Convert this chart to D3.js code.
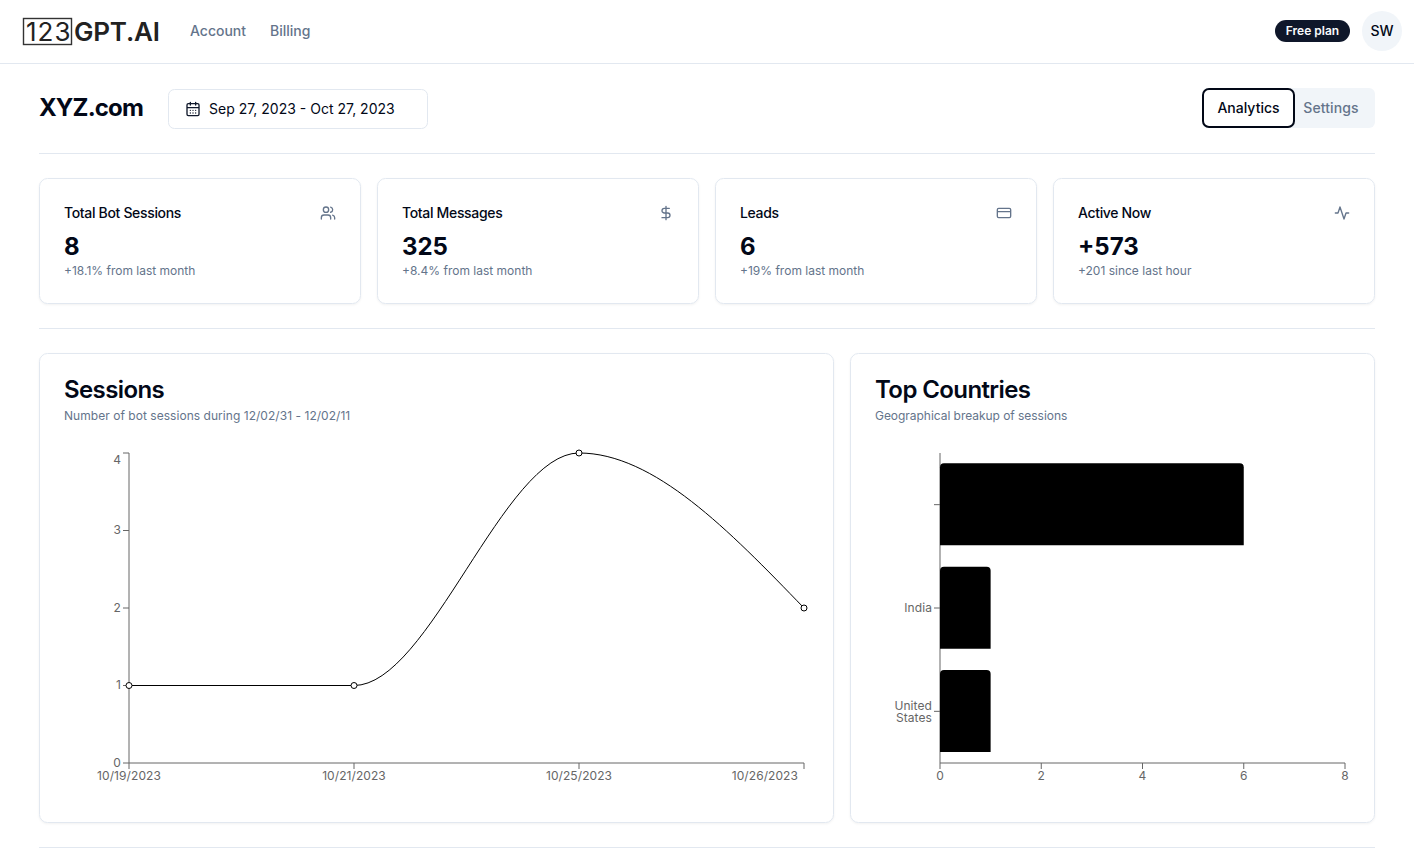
<!DOCTYPE html>
<html>
<head>
<meta charset="utf-8">
<script src="https://cdn.jsdelivr.net/npm/d3@7"></script>
<style>
  html, body { margin: 0; padding: 0; background: #fff; overflow: hidden; }
  svg { display: block; font-family: Inter, sans-serif; }
  .card { fill: #fff; stroke: #e2e8f0; filter: drop-shadow(0 1px 1px rgba(0,0,0,.05)); }
  .rule { stroke: #e2e8f0; }
  .icon { fill: none; stroke: #64748b; stroke-width: 2; stroke-linecap: round; stroke-linejoin: round; }
  .axis text { font-family: Inter, sans-serif; font-size: 12px; fill: #666; letter-spacing: 0.08px; }
  .axis line, .axis path { stroke: #666; stroke-width: 1; }
</style>
</head>
<body>
<svg id="page" width="1414" height="865"></svg>
<script>
// stat cards
const statTitles = ['Total Bot Sessions', 'Total Messages', 'Leads', 'Active Now'];
const statValues = ['8', '325', '6', '+573'];
const statNotes = ['+18.1% from last month', '+8.4% from last month', '+19% from last month', '+201 since last hour'];

// sessions line
const sessionDates = ['10/19/2023', '10/21/2023', '10/25/2023', '10/26/2023'];
const sessionCounts = [1, 1, 4, 2];
const sessionTicks = [0, 1, 2, 3, 4];

// countries bars
const countryNames = ['', 'India', 'United States'];
const countrySessions = [6, 1, 1];
const countryTicks = [0, 2, 4, 6, 8];

const svg = d3.select('#page');
const ink = '#020817', pill = '#0f172a', muted = '#64748b';

function label(x, y, str, size, weight, color, anchor) {
  return svg.append('text').attr('x', x).attr('y', y).text(str)
    .attr('font-size', size).attr('font-weight', weight).attr('fill', color)
    .attr('text-anchor', anchor || 'start');
}
function rule(x1, x2, y) {
  svg.append('line').attr('class', 'rule').attr('x1', x1).attr('x2', x2).attr('y1', y + 0.5).attr('y2', y + 0.5);
}
function box(x, y, w, h, r, cls) {
  return svg.append('rect').attr('class', cls || null).attr('x', x).attr('y', y).attr('width', w).attr('height', h).attr('rx', r);
}
function icon(x, y, d, color) {
  svg.append('path').attr('class', 'icon').attr('transform', `translate(${x},${y}) scale(0.667)`).attr('d', d)
    .style('stroke', color || null);
}

/////////////////////////////////////////////////////////////////////////////
                ///////    Header    ///////
/////////////////////////////////////////////////////////////////////////////

rule(0, 1414, 63);
svg.append('rect').attr('x', 23.5).attr('y', 18.5).attr('width', 48).attr('height', 26).attr('fill', 'none').attr('stroke', '#333').attr('stroke-width', 1.4);
label(26, 41, '123', 26, 400, '#222').attr('letter-spacing', 1);
label(74, 41, 'GPT.AI', 26, 600, '#222').attr('letter-spacing', -0.2);
label(190, 36, 'Account', 14, 500, muted);
label(270, 36, 'Billing', 14, 500, muted);

box(1275, 20, 75, 22, 11).attr('fill', pill);
label(1312.5, 35, 'Free plan', 12, 600, '#f8fafc', 'middle');
svg.append('circle').attr('cx', 1382).attr('cy', 31).attr('r', 20).attr('fill', '#f1f5f9');
label(1382, 36, 'SW', 14, 500, ink, 'middle');

label(39, 116, 'XYZ.com', 24, 700, ink).attr('letter-spacing', -0.85);
box(168.5, 89.5, 259, 39, 6, 'rule').attr('fill', '#fff');
icon(185, 101, 'M8 2v4M16 2v4M5 4h14a2 2 0 0 1 2 2v14a2 2 0 0 1-2 2H5a2 2 0 0 1-2-2V6a2 2 0 0 1 2-2zM3 10h18M8 14h.01M12 14h.01M16 14h.01M8 18h.01M12 18h.01M16 18h.01', pill);
label(209, 114, 'Sep 27, 2023 - Oct 27, 2023', 14, 400, ink);

box(1202, 88, 173, 40, 6).attr('fill', '#f1f5f9');
box(1203, 89, 91, 38, 6).attr('fill', '#fff').attr('stroke', ink).attr('stroke-width', 2);
label(1248.5, 113, 'Analytics', 14, 500, ink, 'middle');
label(1331, 113, 'Settings', 14, 500, muted, 'middle').attr('letter-spacing', 0.1);
rule(39, 1375, 153);

/////////////////////////////////////////////////////////////////////////////
                ///////    Stat cards    ///////
/////////////////////////////////////////////////////////////////////////////

const statIcons = [
  'M16 21v-2a4 4 0 0 0-4-4H6a4 4 0 0 0-4 4v2M9 3a4 4 0 1 1 0 8 4 4 0 0 1 0-8zM22 21v-2a4 4 0 0 0-3-3.87M16 3.13a4 4 0 0 1 0 7.75',
  'M12 2v20M17 5H9.5a3.5 3.5 0 0 0 0 7h5a3.5 3.5 0 0 1 0 7H6',
  'M4 5h16a2 2 0 0 1 2 2v10a2 2 0 0 1-2 2H4a2 2 0 0 1-2-2V7a2 2 0 0 1 2-2zM2 10h20',
  'M22 12h-4l-3 9L9 3l-3 9H2'
];
statTitles.forEach((title, i) => {
  const x = 39.5 + i * 338;
  box(x, 178.5, 321, 125, 8, 'card');
  label(x + 24.5, 218, title, 14, 500, ink).attr('letter-spacing', -0.33);
  label(x + 24.5, 255, statValues[i], 24, 700, ink);
  label(x + 24.5, 275, statNotes[i], 12, 400, muted);
  icon(x + 280.5, 205, statIcons[i]);
});
rule(39, 1375, 328);
rule(39, 1375, 847);

/////////////////////////////////////////////////////////////////////////////
                ///////    Sessions    ///////
/////////////////////////////////////////////////////////////////////////////

box(39.5, 353.5, 794, 469, 8, 'card');
label(64, 398, 'Sessions', 24, 600, ink).attr('letter-spacing', -0.6);
label(64, 420, 'Number of bot sessions during 12/02/31 - 12/02/11', 12, 400, muted).attr('letter-spacing', 0.04);

const lineX = d3.scalePoint().domain(sessionDates).range([129, 804]);
const lineY = d3.scaleLinear().domain([0, 4]).range([763, 453]);

const lineXAxis = svg.append('g').attr('class', 'axis').attr('transform', 'translate(0,763)')
  .call(d3.axisBottom(lineX).offset(0).tickSize(6).tickSizeOuter(0).tickPadding(2));
lineXAxis.selectAll('.tick:last-of-type text').attr('text-anchor', 'end').attr('dx', -6);
const lineYAxis = svg.append('g').attr('class', 'axis').attr('transform', 'translate(129,0)')
  .call(d3.axisLeft(lineY).offset(0).tickValues(sessionTicks).tickFormat(d3.format('d')).tickSize(6).tickSizeOuter(0).tickPadding(2));
// top label sits under its tick, as the chart keeps it inside the plot
lineYAxis.selectAll('.tick:last-of-type text').attr('dy', '0.92em');

const sessionLine = d3.line()
  .x((d, i) => lineX(sessionDates[i]))
  .y(d => lineY(d))
  .curve(d3.curveMonotoneX);
svg.append('path').attr('d', sessionLine(sessionCounts)).attr('fill', 'none').attr('stroke', '#000').attr('stroke-width', 1);
svg.selectAll('.dot').data(sessionCounts).join('circle').attr('class', 'dot')
  .attr('cx', (d, i) => lineX(sessionDates[i])).attr('cy', d => lineY(d)).attr('r', 3)
  .attr('fill', '#fff').attr('stroke', '#000').attr('stroke-width', 1);

/////////////////////////////////////////////////////////////////////////////
                ///////    Top Countries    ///////
/////////////////////////////////////////////////////////////////////////////

box(850.5, 353.5, 524, 469, 8, 'card');
label(875, 398, 'Top Countries', 24, 600, ink).attr('letter-spacing', -0.6);
label(875, 420, 'Geographical breakup of sessions', 12, 400, muted).attr('letter-spacing', -0.04);

const barX = d3.scaleLinear().domain([0, 8]).range([940, 1345]);
const barY = d3.scaleBand().domain(countryNames).range([453, 763]).paddingInner(0.2).paddingOuter(0.1);

svg.append('g').attr('class', 'axis').attr('transform', 'translate(0,763)')
  .call(d3.axisBottom(barX).offset(0).tickValues(countryTicks).tickSize(6).tickSizeOuter(0).tickPadding(2));

const barYAxis = svg.append('g').attr('class', 'axis').attr('transform', 'translate(940,0)')
  .call(d3.axisLeft(barY).offset(0).tickSize(6).tickSizeOuter(0).tickPadding(2));
// long names wrap on two lines
barYAxis.selectAll('.tick text').each(function(d) {
  const words = d.split(' ');
  if (words.length < 2) return;
  const t = d3.select(this).text(null);
  words.forEach((w, i) => t.append('tspan').attr('x', -8).attr('dy', i ? 12 : -1).text(w));
});

svg.selectAll('.bar').data(countrySessions).join('path').attr('class', 'bar')
  .attr('fill', '#000')
  .attr('d', (d, i) => {
    const y = barY(countryNames[i]), h = barY.bandwidth() - 0.7, x0 = barX(0), x1 = barX(d), r = 4;
    return `M${x0},${y + h}V${y + r}Q${x0},${y} ${x0 + r},${y}H${x1 - r}Q${x1},${y} ${x1},${y + r}V${y + h}Z`;
  });
</script>
</body>
</html>
